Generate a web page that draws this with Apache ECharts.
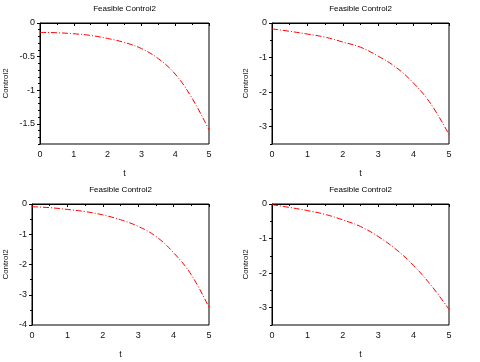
<!DOCTYPE html>
<html>
<head>
<meta charset="utf-8">
<script src="https://cdn.jsdelivr.net/npm/echarts@6/dist/echarts.min.js"></script>
<style>
  html, body { margin: 0; padding: 0; background: #fff; }
  #chart { width: 480px; height: 362px; }
</style>
</head>
<body>
<div id="chart"></div>
<script>
// ---- data ----
const tValues = [0, 0.5, 1, 1.5, 2, 2.5, 3, 3.5, 4, 4.5, 5];
const control2A = [-0.14, -0.145, -0.16, -0.185, -0.23, -0.29, -0.38, -0.53, -0.76, -1.12, -1.59];
const control2B = [-0.17, -0.24, -0.32, -0.41, -0.55, -0.70, -0.96, -1.28, -1.74, -2.36, -3.23];
const control2C = [-0.09, -0.12, -0.18, -0.25, -0.36, -0.52, -0.74, -1.07, -1.61, -2.34, -3.42];
const control2D = [-0.02, -0.10, -0.19, -0.30, -0.46, -0.65, -0.94, -1.31, -1.78, -2.36, -3.05];

const panelTitle = 'Feasible Control2';
const xName = 't';
const yName = 'Control2';

const yMinA = -1.8, yMinB = -3.5, yMinC = -4, yMinD = -3.5;
const yTicksA = [0, -0.5, -1, -1.5];
const yTicksB = [0, -1, -2, -3];
const yTicksC = [0, -1, -2, -3, -4];
const yTicksD = [0, -1, -2, -3];
const yMinorStepA = 0.1;
const yMinorStepB = 0.5;

// ---- layout ----
const panels = [
  { data: control2A, min: yMinA, ticks: yTicksA, step: yMinorStepA, left: 40, top: 23, width: 169, height: 121, nameGap: 30 },
  { data: control2B, min: yMinB, ticks: yTicksB, step: yMinorStepB, left: 272, top: 23, width: 177, height: 121, nameGap: 22 },
  { data: control2C, min: yMinC, ticks: yTicksC, step: yMinorStepB, left: 32, top: 204, width: 177, height: 121, nameGap: 22 },
  { data: control2D, min: yMinD, ticks: yTicksD, step: yMinorStepB, left: 272, top: 204, width: 177, height: 121, nameGap: 22 }
];

function minorValues(min, step) {
  var out = [];
  var n = Math.round(-min / step);
  for (var i = 0; i <= n; i++) out.push(-Math.round(i * step * 100) / 100);
  return out;
}

const font = 'Liberation Sans, Arial, sans-serif';
const chart = echarts.init(document.getElementById('chart'), null, { renderer: 'canvas' });

const grid = [], xAxis = [], yAxis = [], series = [], title = [];

panels.forEach(function (p, i) {
  grid.push({
    left: p.left, top: p.top, width: p.width, height: p.height,
    outerBoundsMode: 'none', containLabel: false,
    show: true, borderColor: '#000', borderWidth: 1, backgroundColor: '#fff'
  });
  title.push({
    text: panelTitle,
    left: p.left + p.width / 2,
    top: p.top - 18,
    padding: 0,
    textAlign: 'center',
    textStyle: { fontSize: 8, fontWeight: 'normal', color: '#000', fontFamily: font }
  });
  xAxis.push({
    type: 'value', gridIndex: i, min: 0, max: 5, interval: 1,
    name: xName, nameLocation: 'middle', nameGap: 25,
    nameTextStyle: { fontSize: 9, color: '#111', fontFamily: font },
    axisLine: { lineStyle: { color: '#000', width: 1 } },
    axisTick: { length: 3, lineStyle: { color: '#000' } },
    minorTick: { show: true, splitNumber: 2, length: 2, lineStyle: { color: '#000' } },
    axisLabel: { fontSize: 9, color: '#111', margin: 6, fontFamily: font },
    splitLine: { show: false }
  });
  // main y axis: labels + major ticks
  yAxis.push({
    type: 'value', gridIndex: i, min: p.min, max: 0,
    name: yName, nameLocation: 'middle', nameGap: p.nameGap,
    nameTextStyle: { fontSize: 8, color: '#111', fontFamily: font },
    axisLine: { lineStyle: { color: '#000', width: 1 } },
    axisTick: { length: 3, customValues: p.ticks, lineStyle: { color: '#000' } },
    axisLabel: { fontSize: 9, color: '#111', margin: 5, fontFamily: font, customValues: p.ticks },
    splitLine: { show: false }
  });
  // second y axis on the same grid: minor ticks only
  yAxis.push({
    type: 'value', gridIndex: i, min: p.min, max: 0, position: 'left', offset: 0,
    axisLine: { show: false },
    axisTick: { length: 2, customValues: minorValues(p.min, p.step), lineStyle: { color: '#000' } },
    axisLabel: { show: false },
    splitLine: { show: false }
  });
  series.push({
    type: 'line',
    xAxisIndex: i,
    yAxisIndex: i * 2,
    data: tValues.map(function (t, k) { return [t, p.data[k]]; }),
    smooth: 0.4,
    symbol: 'none',
    lineStyle: { color: '#ff0000', width: 1, type: [6, 2, 1, 2] },
    silent: true
  });
});

chart.setOption({
  animation: false,
  backgroundColor: '#fff',
  title: title,
  grid: grid,
  xAxis: xAxis,
  yAxis: yAxis,
  series: series
});
</script>
</body>
</html>
